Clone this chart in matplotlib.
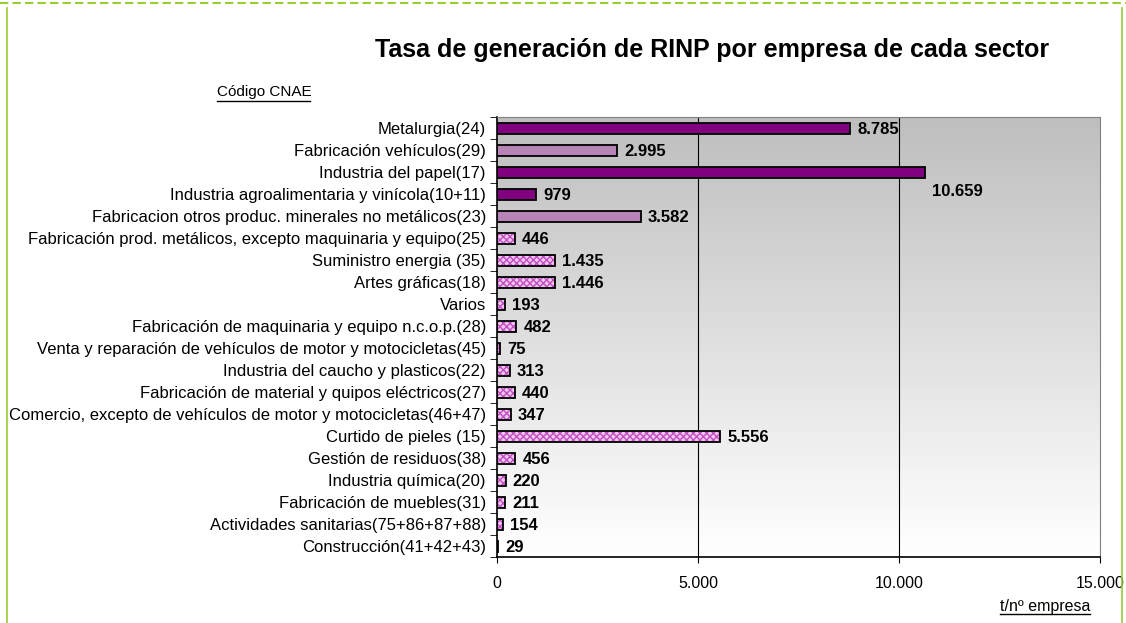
import matplotlib
matplotlib.use('Agg')
import matplotlib.pyplot as plt
import numpy as np
from matplotlib.lines import Line2D
from matplotlib.colors import LinearSegmentedColormap

sectores = [
    'Metalurgia(24)',
    'Fabricación vehículos(29)',
    'Industria del papel(17)',
    'Industria agroalimentaria y vinícola(10+11)',
    'Fabricacion otros produc. minerales no metálicos(23)',
    'Fabricación prod. metálicos, excepto maquinaria y equipo(25)',
    'Suministro energia (35)',
    'Artes gráficas(18)',
    'Varios',
    'Fabricación de maquinaria y equipo n.c.o.p.(28)',
    'Venta y reparación de vehículos de motor y motocicletas(45)',
    'Industria del caucho y plasticos(22)',
    'Fabricación de material y quipos eléctricos(27)',
    'Comercio, excepto de vehículos de motor y motocicletas(46+47)',
    'Curtido de pieles (15)',
    'Gestión de residuos(38)',
    'Industria química(20)',
    'Fabricación de muebles(31)',
    'Actividades sanitarias(75+86+87+88)',
    'Construcción(41+42+43)',
]
tasa = [8785, 2995, 10659, 979, 3582, 446, 1435, 1446, 193, 482,
        75, 313, 440, 347, 5556, 456, 220, 211, 154, 29]
# grupo de color de cada barra: 0 oscuro, 1 claro, 2 trama
grupo = [0, 1, 0, 0, 1, 2, 2, 2, 2, 2, 2, 2, 2, 2, 2, 2, 2, 2, 2, 2]
xticks = [0, 5000, 10000, 15000]

plt.rcParams['font.family'] = ['Liberation Sans', 'DejaVu Sans']


def miles(v):
    return f'{v:,}'.replace(',', '.')


fig = plt.figure(figsize=(11.26, 6.23), dpi=100)
ax = fig.add_axes([497/1126, 1 - 557/623, 603/1126, 440/623])

n = len(sectores)

# fondo degradado gris (arriba) -> blanco (abajo), en franjas
cmap = LinearSegmentedColormap.from_list('g', ['#bebebe', '#ffffff'])
franjas = np.linspace(-0.5, n - 0.5, 121)
for i in range(120):
    ax.axhspan(franjas[i], franjas[i + 1], color=cmap(i / 119), linewidth=0, zorder=0)

y = np.arange(n)
colores = {0: '#800080', 1: '#b784b7', 2: '#f2c4f2'}
for yi, v, g in zip(y, tasa, grupo):
    if g == 2:
        ax.barh(yi, v, height=0.5, color=colores[g], edgecolor='#c050c0',
                linewidth=0, hatch='xxxxx', zorder=3)
        ax.barh(yi, v, height=0.5, fill=False, edgecolor='black', linewidth=1.3, zorder=4)
    else:
        ax.barh(yi, v, height=0.5, color=colores[g], edgecolor='black',
                linewidth=1.3, zorder=3)

for yi, v in zip(y, tasa):
    dy = -14 if v > 10000 else -1
    ax.annotate(miles(v), (v, yi), xytext=(5, dy), textcoords='offset points',
                ha='left', va='center', fontsize=12, fontweight='bold', zorder=5)

ax.set_xlim(0, 15000)
ax.set_ylim(n - 0.5, -0.5)
ax.set_xticks(xticks)
ax.set_xticklabels([miles(t) for t in xticks], fontsize=11.5)
ax.tick_params(axis='x', length=4, pad=10)
ax.set_yticks(y)
ax.set_yticklabels(sectores, fontsize=12)
ax.tick_params(axis='y', length=0, pad=8)
ax.set_yticks(np.arange(-0.5, n), minor=True)
ax.tick_params(axis='y', which='minor', length=5)
for xv in xticks[1:3]:
    ax.axvline(xv, color='black', linewidth=0.8, zorder=2)

for s in ['top', 'right']:
    ax.spines[s].set_color('#808080')
for s in ['left', 'bottom']:
    ax.spines[s].set_color('black')
    ax.spines[s].set_linewidth(1.2)

fig.text(712/1126, 1 - 50/623, 'Tasa de generación de RINP por empresa de cada sector',
         ha='center', va='center', fontsize=18, fontweight='bold')
fig.text(217/1126, 1 - 92/623, 'Código CNAE', ha='left', va='center', fontsize=11)
fig.add_artist(Line2D([217/1126, 310/1126], [1 - 101/623] * 2, color='black', linewidth=1))
fig.text(1090/1126, 1 - 606/623, 't/nº empresa', ha='right', va='center', fontsize=11.5)
fig.add_artist(Line2D([1000/1126, 1090/1126], [1 - 614/623] * 2, color='black', linewidth=1))

# marco verde
verde = '#9acd32'
fig.add_artist(Line2D([0, 1], [1 - 3/623] * 2, color=verde, linewidth=1.5, linestyle=(0, (4, 2))))
fig.add_artist(Line2D([7/1126] * 2, [0, 1 - 8/623], color=verde, linewidth=1.2))
fig.add_artist(Line2D([1122/1126] * 2, [0, 1 - 8/623], color=verde, linewidth=1.2))

fig.savefig('out.png', dpi=100)
